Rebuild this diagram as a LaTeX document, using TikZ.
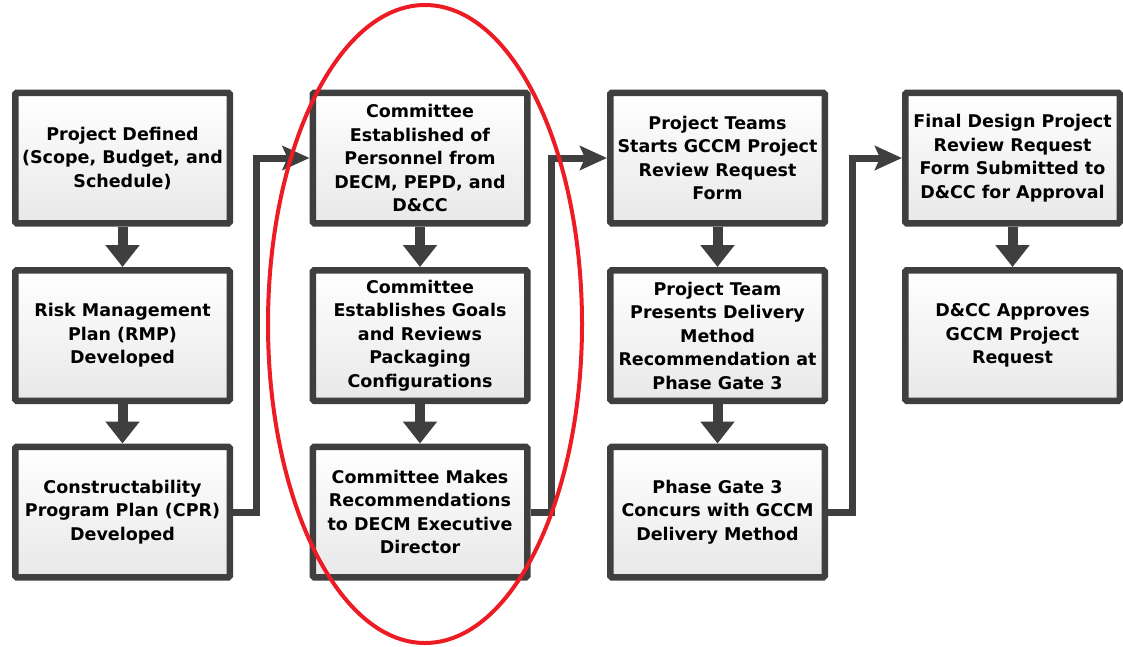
\documentclass[tikz,border=0pt]{standalone}
\usepackage{fontspec}
\setmainfont{DejaVu Sans}
\usetikzlibrary{arrows.meta,shadows}
\definecolor{bord}{HTML}{3F3F3F}
\definecolor{ovalred}{HTML}{ED1C24}
\tikzset{
  box/.style={draw=bord, line width=6.5pt, rounded corners=1.5pt,
    top color=white, bottom color=black!9,
    minimum width=214.5pt, minimum height=130.5pt, inner sep=0pt,
    align=center, text=black,
    font=\fontsize{17.5}{23.5}\selectfont\bfseries,
    drop shadow={opacity=0.18, shadow xshift=2pt, shadow yshift=-2pt}},
  down/.style={draw=bord, line width=10pt, -{Triangle[width=33pt,length=22pt]}},
  link/.style={draw=bord, line width=7pt, line join=miter,
    -{Stealth[width=24pt,length=27pt,inset=5pt]}},
}
\begin{document}
\begin{tikzpicture}[x=1pt,y=-1pt]
\useasboundingbox (0,0) rectangle (1123,646);
% column 1
\node[box] (a1) at (122.5,158) {Project Defined\\(Scope, Budget, and\\Schedule)};
\node[box] (a2) at (122.5,335.5) {Risk Management\\Plan (RMP)\\Developed};
\node[box] (a3) at (122.5,512) {Constructability\\Program Plan (CPR)\\Developed};
% column 2
\node[box] (b1) at (420,158) {Committee\\Established of\\Personnel from\\DECM, PEPD, and\\D\&CC};
\node[box] (b2) at (420,335.5) {Committee\\Establishes Goals\\and Reviews\\Packaging\\Configurations};
\node[box] (b3) at (420,512) {Committee Makes\\Recommendations\\to DECM Executive\\Director};
% column 3
\node[box] (c1) at (717.5,158) {Project Teams\\Starts GCCM Project\\Review Request\\Form};
\node[box] (c2) at (717.5,335.5) {Project Team\\Presents Delivery\\Method\\Recommendation at\\Phase Gate 3};
\node[box] (c3) at (717.5,512) {Phase Gate 3\\Concurs with GCCM\\Delivery Method};
% column 4
\node[box] (d1) at (1012.5,158) {Final Design Project\\Review Request\\Form Submitted to\\D\&CC for Approval};
\node[box] (d2) at (1012.5,335.5) {D\&CC Approves\\GCCM Project\\Request};
% vertical arrows
\draw[down] (a1.south) -- (a2.north);
\draw[down] (a2.south) -- (a3.north);
\draw[down] (b1.south) -- (b2.north);
\draw[down] (b2.south) -- (b3.north);
\draw[down] (c1.south) -- (c2.north);
\draw[down] (c2.south) -- (c3.north);
\draw[down] (d1.south) -- (d2.north);
% column links
\draw[link] (a3.east) -- ++(23,0) |- (b1.west);
\draw[link] (b3.east) -- ++(21,0) |- (c1.west);
\draw[link] (c3.east) -- ++(24,0) |- (d1.west);
% red oval
\draw[ovalred, line width=4pt] (425,324) ellipse [x radius=157pt, y radius=319pt];
\end{tikzpicture}
\end{document}
